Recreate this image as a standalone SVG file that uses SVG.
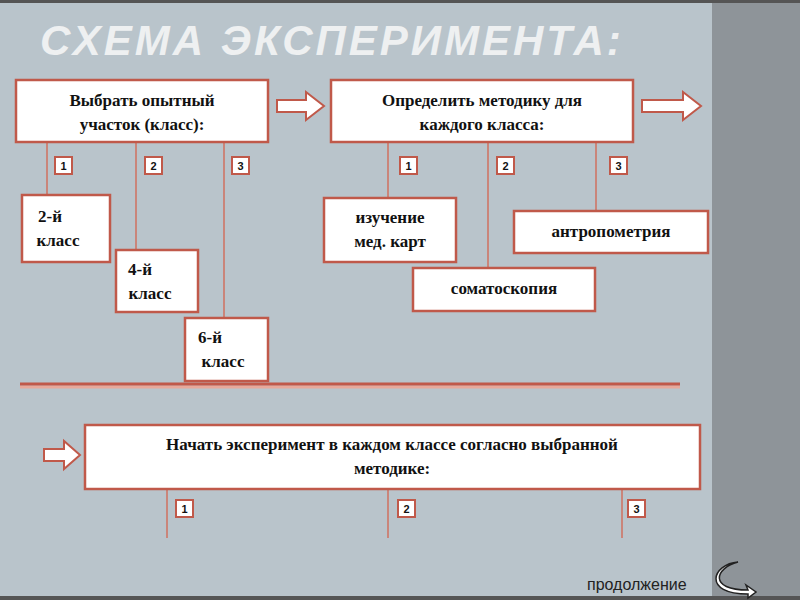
<svg xmlns="http://www.w3.org/2000/svg" width="800" height="600" viewBox="0 0 800 600">
<defs>
<style>
.box{fill:#fff;stroke:#c0594a;stroke-width:2.5}
.num{fill:#fff;stroke:#c0594a;stroke-width:2}
.ln{stroke:#d07060;stroke-width:1.5;fill:none}
.t{font-family:"Liberation Serif",serif;font-weight:bold;font-size:17px;fill:#111;text-anchor:middle}
.n{font-family:"Liberation Sans",sans-serif;font-weight:bold;font-size:11px;fill:#111;text-anchor:middle}
.arr{fill:#fff;stroke:#c0594a;stroke-width:2}
</style>
</defs>
<rect width="800" height="600" fill="#b9c4cb"/>
<rect x="712" y="0" width="88" height="600" fill="#8e9499"/>
<rect width="800" height="3" fill="#555"/>
<rect y="596" width="800" height="4" fill="#555"/>
<text x="40" y="55" font-family="Liberation Sans,sans-serif" font-weight="bold" font-style="italic" font-size="42" fill="#eef0f1" letter-spacing="3">СХЕМА  ЭКСПЕРИМЕНТА:</text>
<g id="connectors">
<path class="ln" d="M47 142V195M136 142V250M224 142V318M388 142V200M488 142V268M596 142V212M167 489V538M388 489V538M622 489V538"/>
<line x1="20" y1="387" x2="680" y2="387" stroke="#e8a89a" stroke-width="3"/>
<line x1="20" y1="384" x2="680" y2="384" stroke="#c0594a" stroke-width="3"/>
<path class="arr" d="M277 100H306V92L324 106L306 120V112H277Z"/>
<path class="arr" d="M642 100H683V92L701 106L683 120V112H642Z"/>
<path class="arr" d="M44 449H64V441L80 455L64 469V461H44Z"/>
</g>
<g id="b1"><rect class="box" x="16" y="80" width="252" height="62"/><text class="t" x="142" y="106">Выбрать опытный</text><text class="t" x="142" y="130">участок (класс):</text></g>
<g id="b2"><rect class="box" x="331" y="80" width="302" height="62"/><text class="t" x="482" y="106">Определить методику для</text><text class="t" x="482" y="130">каждого класса:</text></g>
<g id="n1"><rect class="num" x="55" y="157" width="17" height="17"/><text class="n" x="63.5" y="170">1</text></g>
<g id="n2"><rect class="num" x="145" y="157" width="17" height="17"/><text class="n" x="153.5" y="170">2</text></g>
<g id="n3"><rect class="num" x="232" y="157" width="17" height="17"/><text class="n" x="240.5" y="170">3</text></g>
<g id="n4"><rect class="num" x="400" y="157" width="17" height="17"/><text class="n" x="408.5" y="170">1</text></g>
<g id="n5"><rect class="num" x="497" y="157" width="17" height="17"/><text class="n" x="505.5" y="170">2</text></g>
<g id="n6"><rect class="num" x="610" y="157" width="17" height="17"/><text class="n" x="618.5" y="170">3</text></g>
<g id="c2"><rect class="box" x="22" y="195" width="88" height="67"/><text class="t" x="50" y="222">2-й</text><text class="t" x="58" y="246">класс</text></g>
<g id="c4"><rect class="box" x="116" y="250" width="82" height="62"/><text class="t" x="140" y="275">4-й</text><text class="t" x="150" y="299">класс</text></g>
<g id="c6"><rect class="box" x="185" y="318" width="83" height="63"/><text class="t" x="210" y="343">6-й</text><text class="t" x="223" y="367">класс</text></g>
<g id="m1"><rect class="box" x="324" y="198" width="132" height="64"/><text class="t" x="390" y="223">изучение</text><text class="t" x="390" y="247">мед.  карт</text></g>
<g id="m2"><rect class="box" x="413" y="268" width="182" height="43"/><text class="t" x="504" y="294">соматоскопия</text></g>
<g id="m3"><rect class="box" x="514" y="211" width="194" height="42"/><text class="t" x="611" y="237">антропометрия</text></g>
<g id="b3"><rect class="box" x="85" y="425" width="615" height="64"/><text class="t" x="392" y="450">Начать эксперимент в каждом классе согласно выбранной</text><text class="t" x="392" y="474">методике:</text></g>
<g id="n7"><rect class="num" x="176" y="500" width="17" height="17"/><text class="n" x="184.5" y="513">1</text></g>
<g id="n8"><rect class="num" x="398" y="500" width="17" height="17"/><text class="n" x="406.5" y="513">2</text></g>
<g id="n9"><rect class="num" x="628" y="500" width="17" height="17"/><text class="n" x="636.5" y="513">3</text></g>
<text x="587" y="590" font-family="Liberation Sans,sans-serif" font-size="16" fill="#222">продолжение</text>
<path d="M738 562C715 568 708 590 748 590L746 585L756 592L748 598L748 594C702 594 712 564 738 562Z" fill="#fff" stroke="#222" stroke-width="1.5"/>
</svg>
